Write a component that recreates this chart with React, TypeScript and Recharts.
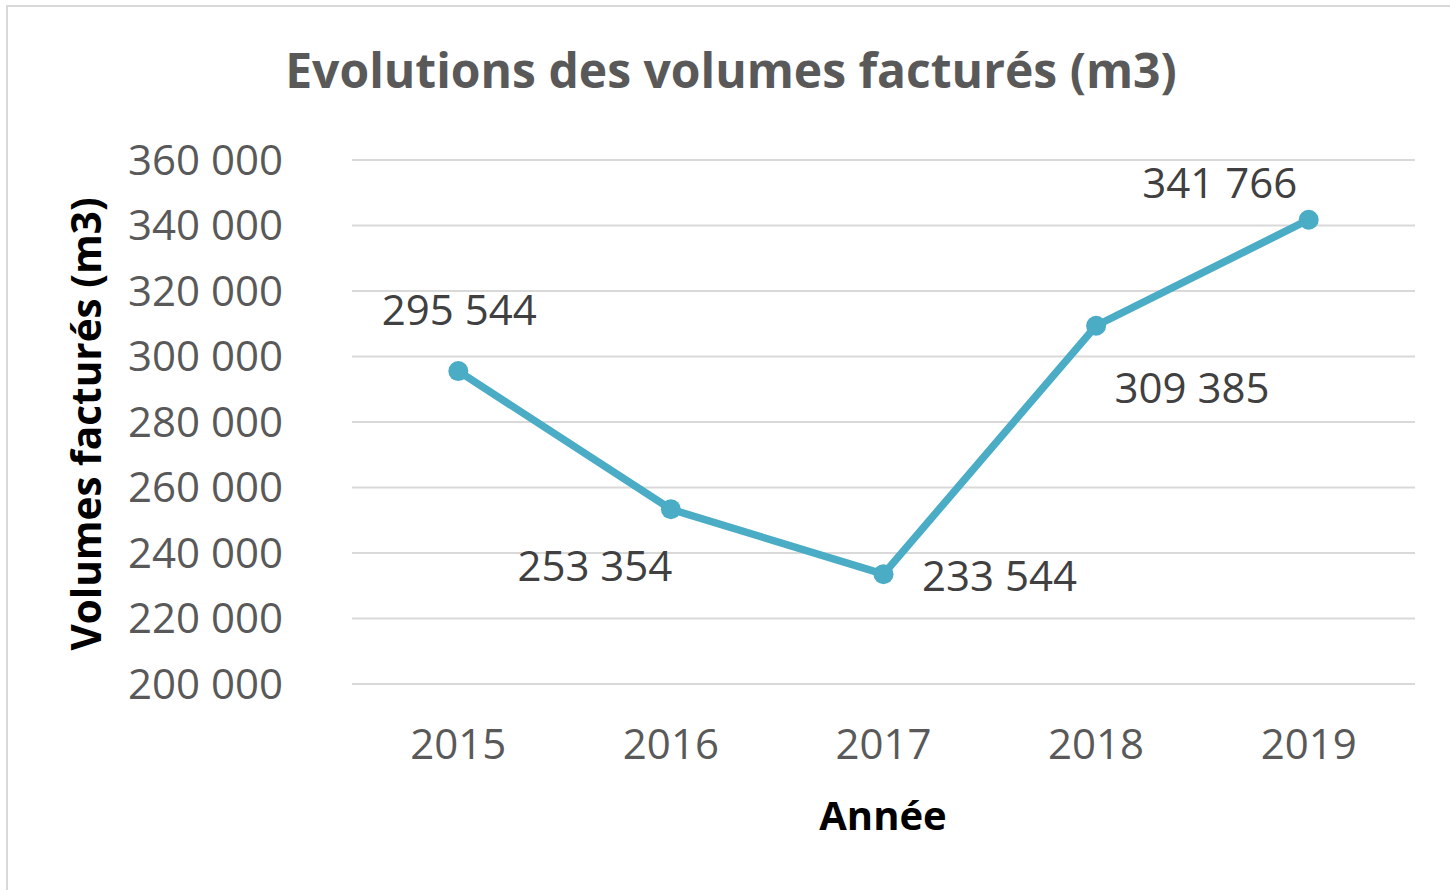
import React from 'react';
import { LineChart, Line, XAxis, YAxis, CartesianGrid, LabelList, Label } from 'recharts';

const YEARS = ['2015', '2016', '2017', '2018', '2019'];
const VOLUMES = [295544, 253354, 233544, 309385, 341766];
const Y_TICKS = [200000, 220000, 240000, 260000, 280000, 300000, 320000, 340000, 360000];
// label centre offset from each point (dx, dy) in px, as placed in the original
const LABEL_OFFSETS: [number, number][] = [[1, -61], [-76, 57], [116, 2], [96, 62], [-89, -37]];

const TITLE = 'Evolutions des volumes facturés (m3)';
const Y_TITLE = 'Volumes facturés (m3)';
const X_TITLE = 'Année';

const data = YEARS.map((year, i) => ({ year, volume: VOLUMES[i] }));

const FONT = '"Open Sans", sans-serif';
const TICK_FS = 42;
const fmt = (n: number) => String(n).replace(/\B(?=(\d{3})+(?!\d))/g, ' ');

const YTick = (props: any) => {
  const { x, y, payload } = props;
  return (
    <text x={x} y={y + TICK_FS * 0.357} textAnchor="end" fill="#595959" fontSize={TICK_FS} fontFamily={FONT}>
      {fmt(payload.value)}
    </text>
  );
};

const XTick = (props: any) => {
  const { x, y, payload } = props;
  return (
    <text x={x} y={y + TICK_FS * 0.357} textAnchor="middle" fill="#595959" fontSize={TICK_FS} fontFamily={FONT}>
      {payload.value}
    </text>
  );
};

const renderLabel = (props: any) => {
  const { x, y, value, index } = props;
  const [dx, dy] = LABEL_OFFSETS[index] || [0, 0];
  return (
    <text x={x + dx} y={y + dy + TICK_FS * 0.357} textAnchor="middle" fill="#404040" fontSize={TICK_FS} fontFamily={FONT}>
      {fmt(value)}
    </text>
  );
};

export default function App() {
  return (
    <div style={{ position: 'fixed', left: 0, top: 0, width: 1450, height: 890, overflow: 'hidden', background: '#fff' }}>
      <div style={{ position: 'absolute', left: 6, top: 5, width: 1500, height: 950, border: '2px solid #d9d9d9' }} />
      <div
        style={{
          position: 'absolute', left: 0, top: 37, width: 1462, textAlign: 'center',
          fontFamily: FONT, fontWeight: 700, fontSize: 48, color: '#595959', lineHeight: '66px',
        }}
      >
        {TITLE}
      </div>
      <div style={{ position: 'absolute', left: 0, top: 0 }}>
        <LineChart width={1450} height={890} data={data} margin={{ top: 160, right: 35, bottom: 106, left: 152 }}>
          <CartesianGrid vertical={false} stroke="#d9d9d9" strokeWidth={2} />
          <XAxis
            dataKey="year"
            scale="band"
            axisLine={false}
            tickLine={false}
            tickSize={0}
            tickMargin={60}
            height={100}
            tick={<XTick />}
            interval={0}
          >
            <Label
              content={() => (
                <text x={883} y={816 + 14} textAnchor="middle" fill="#000" fontWeight={700} fontSize={40} fontFamily={FONT}>
                  {X_TITLE}
                </text>
              )}
            />
          </XAxis>
          <YAxis
            domain={[200000, 360000]}
            ticks={Y_TICKS}
            width={200}
            axisLine={false}
            tickLine={false}
            tickSize={0}
            tickMargin={69}
            tick={<YTick />}
            interval={0}
          >
            <Label
              content={(p: any) => {
                const vb = p.viewBox || { x: 152, y: 160, width: 200, height: 524 };
                const cx = 87;
                const cy = vb.y + vb.height / 2 + 2;
                return (
                  <text
                    x={cx}
                    y={cy}
                    transform={`rotate(-90 ${cx} ${cy})`}
                    dy={14}
                    textAnchor="middle"
                    fill="#000"
                    fontWeight={700}
                    fontSize={40.5}
                    fontFamily={FONT}
                  >
                    {Y_TITLE}
                  </text>
                );
              }}
            />
          </YAxis>
          <Line
            type="linear"
            dataKey="volume"
            stroke="#4bacc6"
            strokeWidth={7.5}
            dot={{ r: 10, fill: '#4bacc6', stroke: '#4bacc6', strokeWidth: 0 }}
            activeDot={false}
            isAnimationActive={false}
          >
            <LabelList dataKey="volume" content={renderLabel} />
          </Line>
        </LineChart>
      </div>
    </div>
  );
}
